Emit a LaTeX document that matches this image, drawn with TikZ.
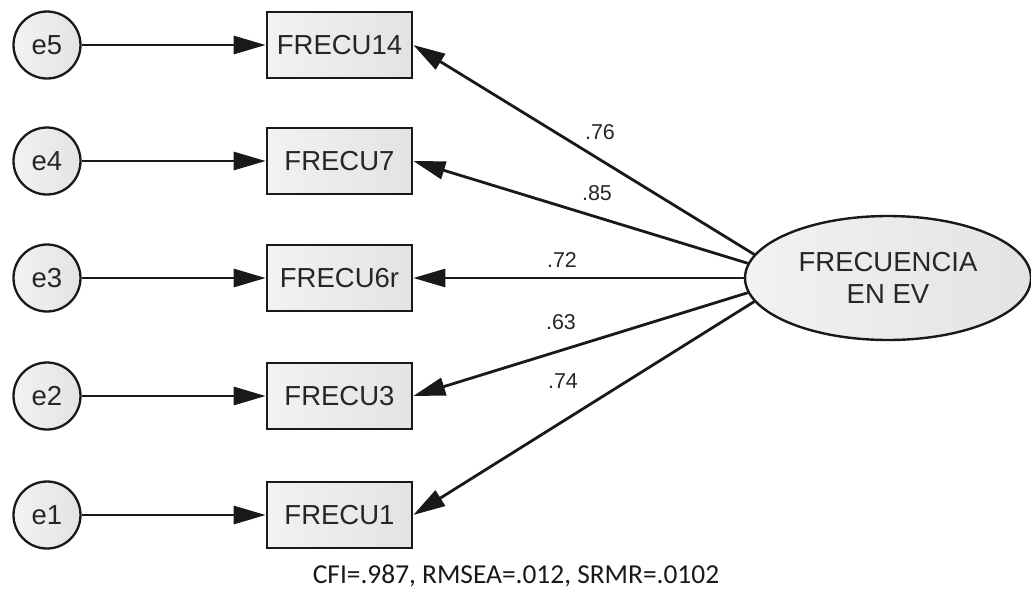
\documentclass[tikz,border=0pt]{standalone}
\usepackage{fontspec}
\setmainfont{Liberation Sans}
\newfontfamily\fitfont{Carlito}
\usetikzlibrary{arrows.meta,shapes.geometric}

\tikzset{
  obs/.style={draw=black!90, line width=2.6pt, minimum width=145pt, minimum height=66pt,
    inner sep=0pt, left color=gray!10, right color=gray!22, text=black!85,
    font=\fontsize{27.5}{30}\selectfont},
  err/.style={circle, draw=black!90, line width=2.3pt, minimum size=67pt, inner sep=0pt,
    left color=gray!10, right color=gray!22, text=black!85,
    font=\fontsize{27.5}{30}\selectfont},
  lat/.style={ellipse, draw=black!90, line width=2.4pt, minimum width=286pt, minimum height=124pt,
    inner sep=0pt, left color=gray!10, right color=gray!22, text=black!85, align=center,
    font=\fontsize{27.5}{32}\selectfont},
  path/.style={line width=2.8pt, draw=black!90, -{Triangle[length=32pt,width=18pt]}},
  coef/.style={text=black!85, font=\fontsize{21.5}{24}\selectfont, inner sep=0pt},
}

\begin{document}
\begin{tikzpicture}[x=1pt,y=-1pt]
\useasboundingbox (0,0) rectangle (1031,603);

% error terms
\node[err] (e5) at (47,45)  {e5};
\node[err] (e4) at (47,161) {e4};
\node[err] (e3) at (47,278) {e3};
\node[err] (e2) at (47,396) {e2};
\node[err] (e1) at (47,515) {e1};

% observed indicators
\node[obs] (f14) at (339.5,45)  {FRECU14};
\node[obs] (f7)  at (339.5,161) {FRECU7};
\node[obs] (f6r) at (339.5,278) {FRECU6r};
\node[obs] (f3)  at (339.5,396) {FRECU3};
\node[obs] (f1)  at (339.5,515) {FRECU1};

% latent factor
\node[lat] (lat) at (888,278) {FRECUENCIA\\EN EV};

% error paths
\draw[path] (e5) -- (f14);
\draw[path] (e4) -- (f7);
\draw[path] (e3) -- (f6r);
\draw[path] (e2) -- (f3);
\draw[path] (e1) -- (f1);

% factor loadings
\draw[path] (lat.170) -- (f14.east);
\draw[path] (lat.174) -- (f7.east);
\draw[path] (lat.180) -- (f6r.east);
\draw[path] (lat.186) -- (f3.east);
\draw[path] (lat.190) -- (f1.east);

\node[coef] (c14) at (600,132) {.76};
\node[coef] (c7)  at (597,193) {.85};
\node[coef] (c6r) at (562,260) {.72};
\node[coef] (c3)  at (561,322) {.63};
\node[coef] (c1)  at (563,381) {.74};

% fit indices
\node[font=\fitfont\fontsize{27.4}{30}\selectfont, text=black!90] (fit) at (516,576)
  {CFI=.987, RMSEA=.012, SRMR=.0102};
\end{tikzpicture}
\end{document}
